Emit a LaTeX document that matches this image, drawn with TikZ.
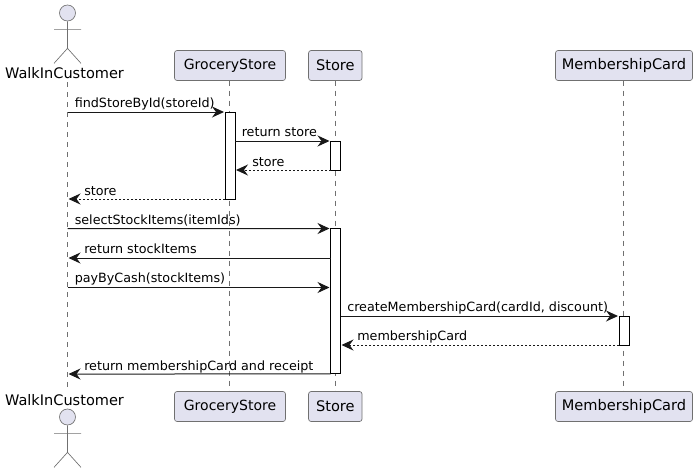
\documentclass[tikz,border=0pt]{standalone}
\usepackage{xcolor}
\usepackage{fontspec}
\setmainfont{DejaVu Sans}
\usetikzlibrary{arrows.meta,positioning}
\definecolor{ink}{HTML}{181818}
\definecolor{thinink}{HTML}{707070}
\definecolor{partfill}{HTML}{E2E2F0}

\begin{document}
\begin{tikzpicture}[
  x=0.75pt, y=-0.75pt,
  part/.style={draw=thinink, line width=0.5pt, rounded corners=1.9pt, fill=partfill,
               inner sep=0pt, minimum height=22.5pt, font=\fontsize{10.95}{12}\selectfont},
  partname/.style={inner sep=0pt, font=\fontsize{10.9}{12}\selectfont},
  head/.style={draw=thinink, line width=0.5pt, circle, fill=partfill, inner sep=0pt, minimum size=12pt},
  figure/.style={draw=thinink, line width=0.5pt},
  life/.style={draw=thinink, line width=0.5pt, dash pattern=on 3.75pt off 3.75pt},
  active/.style={draw=black, line width=0.75pt, fill=white, inner sep=0pt, outer sep=0pt, minimum width=7.5pt},
  msg/.style={anchor=base west, inner sep=0pt, font=\fontsize{9.55}{12}\selectfont},
  call/.style={-{Stealth[length=9pt,width=8.25pt,inset=3pt]}, draw=ink, line width=0.75pt, shorten >=0.75pt},
  reply/.style={call, dash pattern=on 1.5pt off 1.5pt}
]
  \useasboundingbox (0,0) rectangle (697,472);

  % participants
  \node[head] (custhead) at (67.5,13) {};
  \node[partname] (custtop) at (64.5,73) {WalkInCustomer};
  \node[part, minimum width=83.25pt, font=\fontsize{10.5}{12}\selectfont] (grocerytop) at (230,65.5) {GroceryStore};
  \node[part, minimum width=40.1pt] (storetop) at (335.3,65.5) {Store};
  \node[part, minimum width=102.75pt] (cardtop) at (624,65.5) {MembershipCard};

  \node[partname] (custbot) at (64.5,400) {WalkInCustomer};
  \node[head] (custfoot) at (67.5,417) {};
  \node[part, minimum width=83.25pt, font=\fontsize{10.5}{12}\selectfont] (grocerybot) at (230,406.5) {GroceryStore};
  \node[part, minimum width=40.1pt] (storebot) at (335.3,406.5) {Store};
  \node[part, minimum width=102.75pt] (cardbot) at (624,406.5) {MembershipCard};

  \foreach \h in {custhead,custfoot}
    \draw[figure] (\h.south) -- ++(0,27) -- ++(-13.5,15) ++(13.5,-15) -- ++(13.5,15)
      (\h.south) ++(-13.5,8) -- ++(27,0);

  % lifelines
  \coordinate (custstart) at (67.5,82);
  \coordinate (custend) at (67.5,390);
  \coordinate (grocerystart) at (229.5,80.5);
  \coordinate (groceryend) at (229.5,391.5);
  \coordinate (storestart) at (335.5,80.5);
  \coordinate (storeend) at (335.5,391.5);
  \coordinate (cardstart) at (623.5,80.5);
  \coordinate (cardend) at (623.5,391.5);
  \foreach \a/\b in {custstart/custend,grocerystart/groceryend,storestart/storeend,cardstart/cardend}
    \draw[life] (\a) -- (\b);

  % activations
  \node[active, minimum height=65.25pt] (groceryact) at (230,155.5) {};
  \node[active, minimum height=21.75pt] (storeact) at (335.5,155.5) {};
  \node[active, minimum height=109.1pt] (storelong) at (335.5,301.25) {};
  \node[active, minimum height=21.75pt] (cardact) at (624,330.5) {};

  % free ends on the customer lifeline
  \coordinate (c1) at (67.5,112);
  \coordinate (c2) at (67.5,199);
  \coordinate (c3) at (67.5,228.5);
  \coordinate (c4) at (67.5,258);
  \coordinate (c5) at (67.5,287.5);
  \coordinate (c6) at (67.5,374);
  \coordinate (s1) at (330.5,258);
  \coordinate (s2) at (330.5,287.5);
  \coordinate (s3) at (340.5,316);
  \coordinate (s4) at (340.5,345);

  % messages
  \draw[call] (c1) -- (groceryact.north west);
  \draw[call] (groceryact.east |- storeact.north) -- (storeact.north west);
  \draw[reply] (storeact.south west) -- (groceryact.east |- storeact.south);
  \draw[reply] (groceryact.south west) -- (c2);
  \draw[call] (c3) -- (storelong.north west);
  \draw[call] (s1) -- (c4);
  \draw[call] (c5) -- (s2);
  \draw[call] (s3) -- (cardact.north west);
  \draw[reply] (cardact.south west) -- (s4);
  \draw[call] (storelong.south west) -- (c6);

  \node[msg] (m1) at (74.5,107) {findStoreById(storeId)};
  \node[msg] (m2) at (241.5,136) {return store};
  \node[msg] (m3) at (252,166) {store};
  \node[msg] (m4) at (84,195) {store};
  \node[msg] (m5) at (74.5,224) {selectStockItems(itemIds)};
  \node[msg] (m6) at (84,253) {return stockItems};
  \node[msg] (m7) at (74.5,282) {payByCash(stockItems)};
  \node[msg] (m8) at (347,311) {createMembershipCard(cardId, discount)};
  \node[msg] (m9) at (357,340) {membershipCard};
  \node[msg] (m10) at (84,370) {return membershipCard and receipt};
\end{tikzpicture}
\end{document}
